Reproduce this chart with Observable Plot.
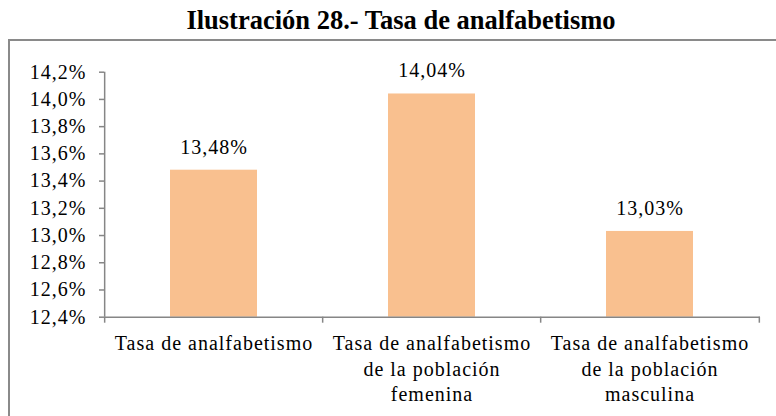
<!DOCTYPE html>
<html>
<head>
<meta charset="utf-8">
<script src="https://cdn.jsdelivr.net/npm/d3@7"></script>
<script src="https://cdn.jsdelivr.net/npm/@observablehq/plot@0.6"></script>
<style>
  html, body { margin: 0; padding: 0; background: #fff; width: 776px; height: 416px; overflow: hidden; }
  #wrap { position: relative; width: 776px; height: 416px; }
  #title { position: absolute; left: 0; top: 0; width: 776px; height: 38px; text-align: center;
           font-family: "Liberation Serif", "Times New Roman", serif; font-weight: bold; font-size: 26.5px;
           line-height: 40px; padding-left: 26px; box-sizing: border-box; color: #000; white-space: nowrap; }
  #frame { position: absolute; left: 8px; top: 39px; width: 800px; height: 420px; border: 2px solid #8a8a8a; box-sizing: border-box; }
  #chart { position: absolute; left: 0; top: 38px; }
  #chart svg text, #chart svg tspan { font-family: "Liberation Serif", serif !important; letter-spacing: 1px; }
</style>
</head>
<body>
<div id="wrap">
  <div id="title">Ilustración 28.- Tasa de analfabetismo</div>
  <div id="frame"></div>
  <div id="chart"></div>
</div>
<script>
const categories = ["total", "femenina", "masculina"];
const categoryLabels = [
  "Tasa de analfabetismo",
  "Tasa de analfabetismo\nde la población\nfemenina",
  "Tasa de analfabetismo\nde la población\nmasculina"
];
const values = [13.48, 14.04, 13.03];
const yTicks = [12.4, 12.6, 12.8, 13.0, 13.2, 13.4, 13.6, 13.8, 14.0, 14.2];
const yMin = 12.4;
const yMax = 14.2;

const data = categories.map((c, i) => ({cat: c, value: values[i]}));
const fmtAxis = d => d.toFixed(1).replace(".", ",") + "%";
const fmtVal = d => d.toFixed(2).replace(".", ",") + "%";
const labelOf = c => categoryLabels[categories.indexOf(c)];

const W = 776, H = 378, mL = 104, mR = 16, mT = 33.7, mB = 99.3;
const step = (W - mL - mR) / categories.length;
const axisColor = "#868686";
const fs = 20;

const chart = Plot.plot({
  width: W,
  height: H,
  marginLeft: mL,
  marginRight: mR,
  marginTop: mT,
  marginBottom: mB,
  style: {fontFamily: "Liberation Serif", fontSize: fs + "px", color: "#000", background: "transparent"},
  x: {domain: categories, paddingInner: 0.6, paddingOuter: 0.3, label: null},
  y: {domain: [yMin, yMax], label: null},
  marks: [
    Plot.barY(data, {x: "cat", y1: yMin, y2: "value", fill: "#F9C08F"}),
    Plot.text(data, {x: "cat", y: "value", text: d => fmtVal(d.value), dy: -23, fontSize: fs, fill: "#000"}),
    // x axis baseline
    Plot.ruleY([yMin], {stroke: axisColor, strokeWidth: 1.5}),
    // y axis line at the left edge of the first band step
    Plot.ruleX(categories.slice(0, 1), {x: d => d, y1: yMin, y2: yMax, dx: -step / 2, stroke: axisColor, strokeWidth: 1.5}),
    // category boundary ticks below the x axis
    Plot.ruleX(categories, {x: d => d, y1: yMin, y2: yMin, dx: -step / 2, insetBottom: -6, stroke: axisColor, strokeWidth: 1.5}),
    Plot.ruleX(categories.slice(-1), {x: d => d, y1: yMin, y2: yMin, dx: step / 2, insetBottom: -6, stroke: axisColor, strokeWidth: 1.5}),
    Plot.axisY({ticks: yTicks, tickFormat: fmtAxis, tickSize: 5, tickPadding: 13, stroke: axisColor, strokeWidth: 1.5, fontSize: fs, fill: "#000"}),
    Plot.axisX({tickFormat: labelOf, tickSize: 0, tickPadding: 15, fontSize: fs, lineHeight: 1.27, fill: "#000"})
  ]
});

document.getElementById("chart").appendChild(chart);
</script>
</body>
</html>
